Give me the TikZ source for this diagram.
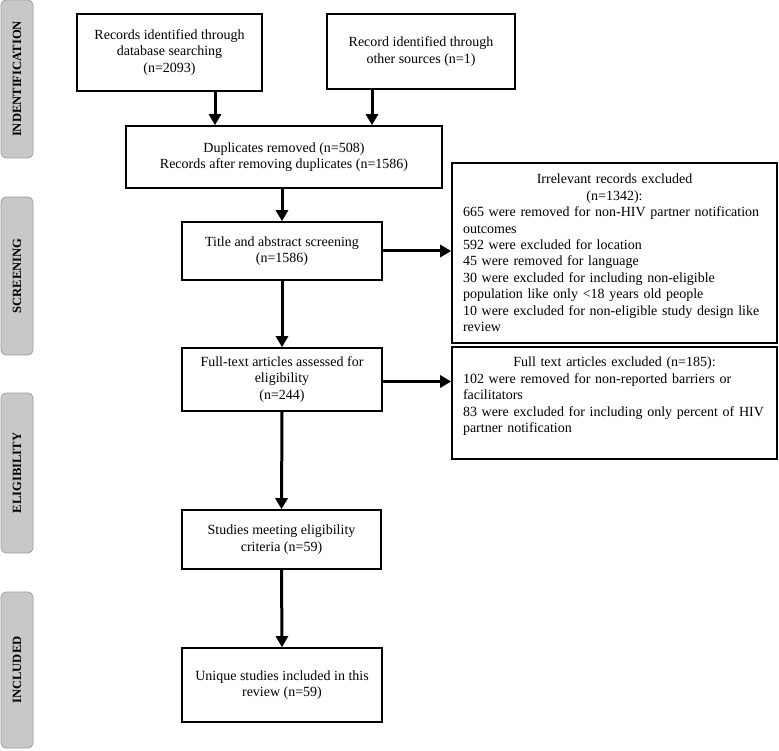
\documentclass[tikz,border=0pt]{standalone}
\usepackage{fontspec}
\setmainfont{Liberation Serif}
\usetikzlibrary{arrows.meta}
\tikzset{
  box/.style={draw=black, line width=1.6pt, align=center, inner sep=2pt,
    font=\fontsize{14}{16.6}\selectfont},
  lbox/.style={draw=black, line width=1.6pt, align=left, inner xsep=11pt, inner ysep=2pt,
    font=\fontsize{14}{16.4}\selectfont},
  side/.style={draw={rgb,255:red,160;green,160;blue,160}, fill={rgb,255:red,200;green,200;blue,200},
    line width=0.8pt, rounded corners=5pt, rotate=90, minimum height=32pt,
    font=\bfseries\fontsize{12.6}{14}\selectfont},
  arr/.style={line width=3pt, -{Triangle[width=12pt,length=11pt]}},
}
\begin{document}
\begin{tikzpicture}[x=1pt,y=-1pt]
\useasboundingbox (0,0) rectangle (779,751);
% side labels
\node[side, minimum width=158pt] (s1) at (17,79) {INDENTIFICATION};
\node[side, minimum width=158pt] (s2) at (17,276) {SCREENING};
\node[side, minimum width=160pt] (s3) at (17,473) {ELIGIBILITY};
\node[side, minimum width=156pt] (s4) at (17,670) {INCLUDED};
% boxes
\node[box, minimum width=185pt, minimum height=77pt] (b1) at (169.5,52.5)
  {Records identified through\\database searching\\(n=2093)};
\node[box, minimum width=188pt, minimum height=75pt] (b2) at (421,51.5)
  {Record identified through\\other sources (n=1)};
\node[box, minimum width=316pt, minimum height=62pt] (dup) at (284,157)
  {Duplicates removed (n=508)\\Records after removing duplicates (n=1586)};
\node[box, minimum width=200pt, minimum height=58pt] (title) at (282,251)
  {Title and abstract screening\\(n=1586)};
\node[lbox, minimum width=325pt, minimum height=180pt, text width=303pt] (irr) at (614.5,253)
  {{\centering Irrelevant records excluded\\(n=1342):\par}%
   665 were removed for non-HIV partner notification\\
   outcomes\\
   592 were excluded for location\\
   45 were removed for language\\
   30 were excluded for including non-eligible\\
   population like only <18 years old people\\
   10 were excluded for non-eligible study design like\\
   review};
\node[box, minimum width=200pt, minimum height=63pt] (full) at (282,379.5)
  {Full-text articles assessed for\\eligibility\\(n=244)};
\node[lbox, minimum width=325pt, minimum height=112pt, text width=303pt] (fte) at (614.5,403)
  {{\centering Full text articles excluded (n=185):\par}%
   102 were removed for non-reported barriers or\\
   facilitators\\
   83 were excluded for including only percent of HIV\\
   partner notification\\
   \mbox{}};
\node[box, minimum width=199pt, minimum height=59pt] (stud) at (281.5,539.5)
  {Studies meeting eligibility\\criteria (n=59)};
\node[box, minimum width=200pt, minimum height=74pt] (uniq) at (282,685)
  {Unique studies included in this\\review (n=59)};
% arrows
\draw[arr] ([xshift=45.5pt]b1.south) -- ([xshift=45.5pt]b1.south |- dup.north);
\draw[arr] ([xshift=-49pt]b2.south) -- ([xshift=-49pt]b2.south |- dup.north);
\draw[arr] (title.north |- dup.south) -- (title.north);
\draw[arr] (title.south) -- (full.north);
\draw[arr] (full.south) -- (stud.north);
\draw[arr] (stud.south) -- (uniq.north);
\draw[arr] (title.east) -- (title.east -| irr.west);
\draw[arr] ([yshift=-2pt]full.east) -- ([yshift=-2pt]full.east -| fte.west);
\end{tikzpicture}
\end{document}
